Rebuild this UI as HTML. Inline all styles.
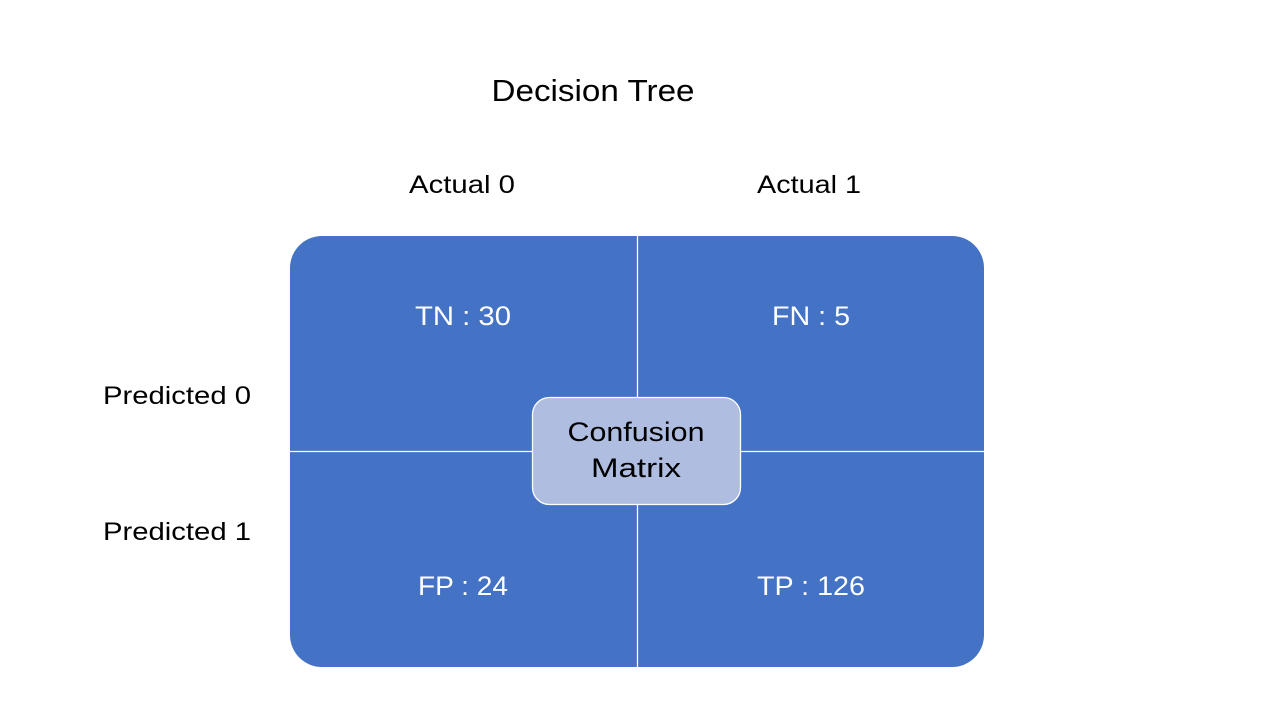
<!DOCTYPE html>
<html><head><meta charset="utf-8"><style>
html,body{margin:0;padding:0;background:#fff;}
svg{display:block;}
text{font-family:"Liberation Sans",sans-serif;}
</style></head><body>
<svg width="1275" height="706" viewBox="0 0 1275 706">
<rect width="1275" height="706" fill="#fff"/>
<text x="593" y="101" font-size="31" text-anchor="middle" fill="#000" textLength="203" lengthAdjust="spacingAndGlyphs">Decision Tree</text>
<text x="462" y="193" font-size="25" text-anchor="middle" fill="#000" textLength="106" lengthAdjust="spacingAndGlyphs">Actual 0</text>
<text x="809" y="193" font-size="25" text-anchor="middle" fill="#000" textLength="104" lengthAdjust="spacingAndGlyphs">Actual 1</text>
<text x="177" y="404" font-size="25" text-anchor="middle" fill="#000" textLength="148" lengthAdjust="spacingAndGlyphs">Predicted 0</text>
<text x="177" y="540" font-size="25" text-anchor="middle" fill="#000" textLength="148" lengthAdjust="spacingAndGlyphs">Predicted 1</text>
<rect x="290" y="236" width="694" height="431" rx="32" ry="32" fill="#4472C4"/>
<line x1="637.5" y1="236" x2="637.5" y2="667" stroke="#fff" stroke-width="1.3"/>
<line x1="290" y1="451.5" x2="984" y2="451.5" stroke="#fff" stroke-width="1.3"/>
<text x="463" y="325" font-size="27" text-anchor="middle" fill="#fff" textLength="96" lengthAdjust="spacingAndGlyphs">TN : 30</text>
<text x="811" y="325" font-size="27" text-anchor="middle" fill="#fff" textLength="78" lengthAdjust="spacingAndGlyphs">FN : 5</text>
<text x="463" y="595" font-size="27" text-anchor="middle" fill="#fff" textLength="90" lengthAdjust="spacingAndGlyphs">FP : 24</text>
<text x="811" y="595" font-size="27" text-anchor="middle" fill="#fff" textLength="108" lengthAdjust="spacingAndGlyphs">TP : 126</text>
<rect x="532.5" y="397.5" width="208" height="107" rx="17" ry="17" fill="#AFBDE0" stroke="#fff" stroke-width="1.3"/>
<text x="636" y="441" font-size="27" text-anchor="middle" fill="#000" textLength="137" lengthAdjust="spacingAndGlyphs">Confusion</text>
<text x="636" y="477" font-size="27" text-anchor="middle" fill="#000" textLength="90" lengthAdjust="spacingAndGlyphs">Matrix</text>
</svg>
</body></html>
